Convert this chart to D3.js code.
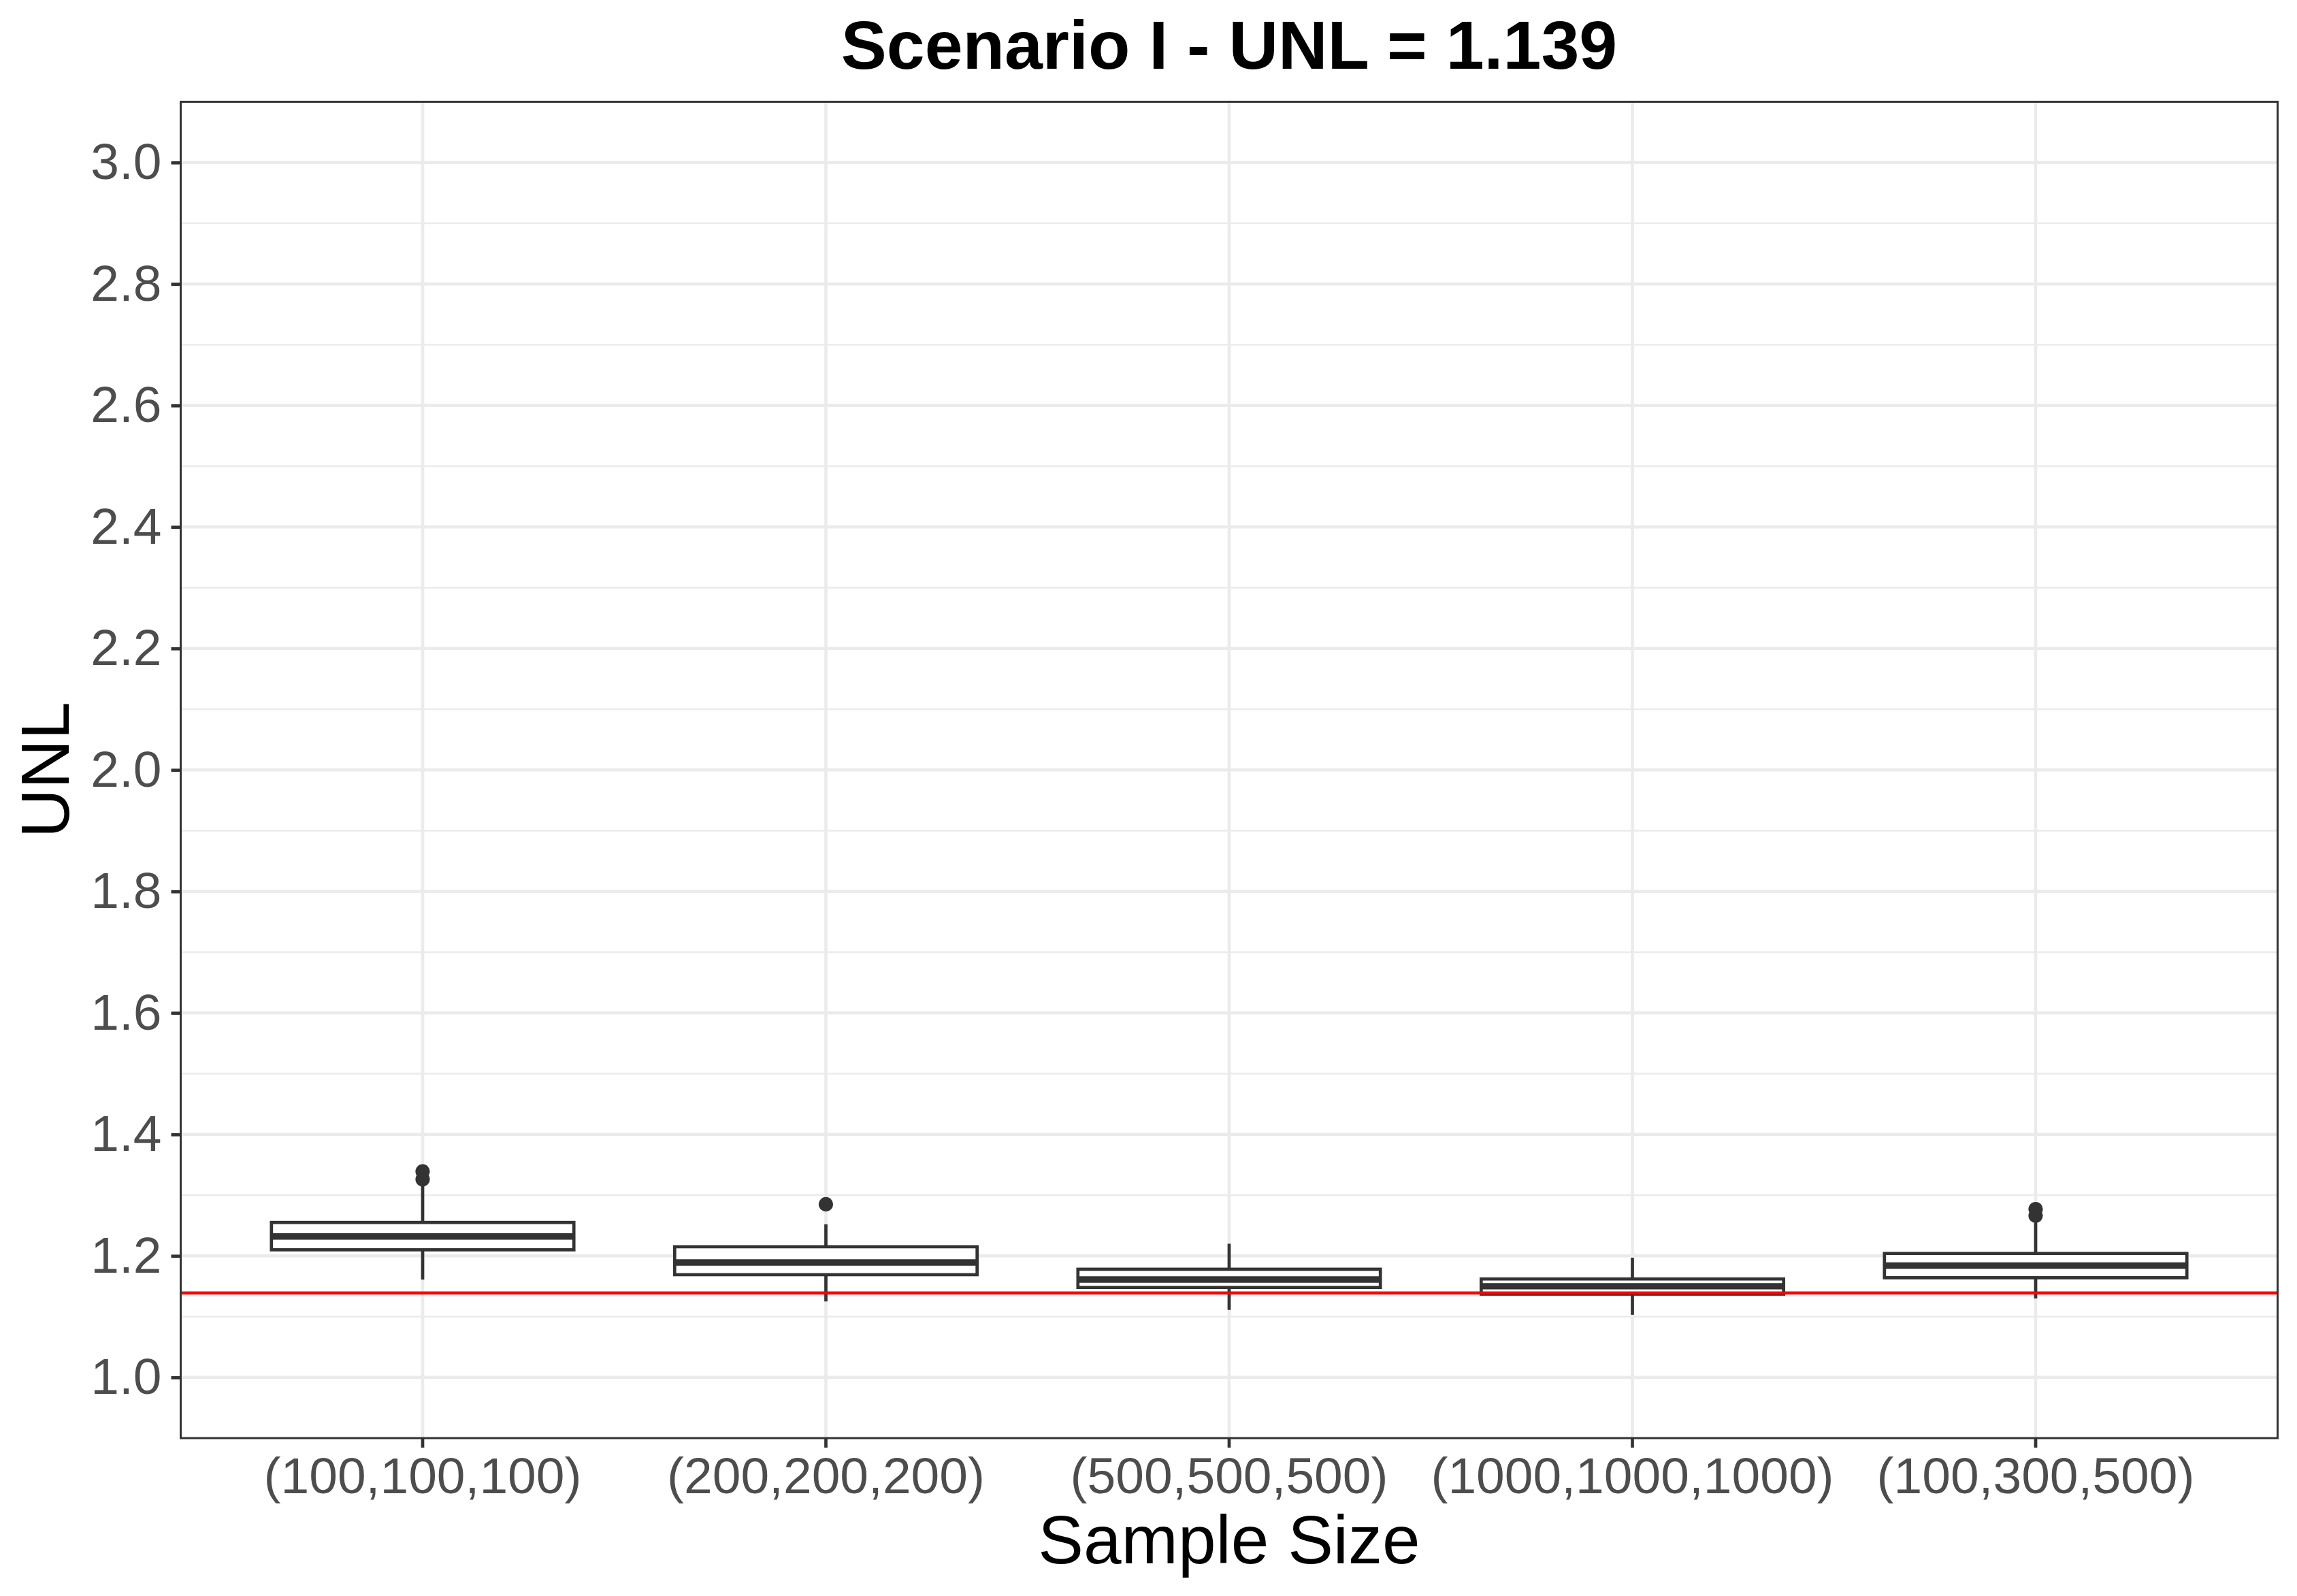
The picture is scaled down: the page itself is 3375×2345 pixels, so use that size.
<!DOCTYPE html>
<html>
<head>
<meta charset="utf-8">
<script src="https://cdn.jsdelivr.net/npm/d3@7"></script>
<style>
  body { margin: 0; background: #fff; }
  text { font-family: "Liberation Sans", Arial, sans-serif; }
</style>
</head>
<body>
<div id="canvas"></div>
<script>
"use strict"

/* Data: one box per sample size */
let categories = ["(100,100,100)", "(200,200,200)", "(500,500,500)", "(1000,1000,1000)", "(100,300,500)"];
let whiskerLow = [1.161, 1.125, 1.111, 1.103, 1.130];
let q1 = [1.210, 1.169, 1.148, 1.137, 1.164];
let median = [1.232, 1.189, 1.161, 1.150, 1.184];
let q3 = [1.255, 1.215, 1.178, 1.162, 1.204];
let whiskerHigh = [1.315, 1.252, 1.220, 1.197, 1.255];
let outliers = [[1.326, 1.339], [1.285], [], [], [1.266, 1.277]];
let trueValue = 1.139;
let yTicks = [1.0, 1.2, 1.4, 1.6, 1.8, 2.0, 2.2, 2.4, 2.6, 2.8, 3.0];
let yMinor = [1.1, 1.3, 1.5, 1.7, 1.9, 2.1, 2.3, 2.5, 2.7, 2.9];

/* Drawing configuration */
let svgWidth = 3375;
let svgHeight = 2345;
let panel = { left: 265.5, right: 3346.5, top: 149.5, bottom: 2113 };
let dark = "#333333";

let svg = d3.select("#canvas")
    .append("svg")
    .attr("width", svgWidth)
    .attr("height", svgHeight);

svg.append("rect")
    .attr("width", svgWidth)
    .attr("height", svgHeight)
    .attr("fill", "white");

/* Scales */
let xScale = d3.scaleBand()
    .domain(categories)
    .range([panel.left, panel.right])
    .paddingInner(0)
    .paddingOuter(0.1);   // gives ggplot's 0.6 unit expansion at band centres

let unit = xScale.bandwidth();
let xCenter = function (c) { return xScale(c) + unit / 2; };

let yScale = d3.scaleLinear()
    .domain([0.9, 3.1])
    .range([panel.bottom, panel.top]);

/* Grid lines */
svg.append("g").selectAll("line")
    .data(yMinor)
    .join("line")
    .attr("x1", panel.left).attr("x2", panel.right)
    .attr("y1", d => yScale(d)).attr("y2", d => yScale(d))
    .attr("stroke", "#EBEBEB")
    .attr("stroke-width", 2.3);

svg.append("g").selectAll("line")
    .data(yTicks)
    .join("line")
    .attr("x1", panel.left).attr("x2", panel.right)
    .attr("y1", d => yScale(d)).attr("y2", d => yScale(d))
    .attr("stroke", "#EBEBEB")
    .attr("stroke-width", 4.6);

svg.append("g").selectAll("line")
    .data(categories)
    .join("line")
    .attr("x1", d => xCenter(d)).attr("x2", d => xCenter(d))
    .attr("y1", panel.top).attr("y2", panel.bottom)
    .attr("stroke", "#EBEBEB")
    .attr("stroke-width", 4.6);

/* Boxplots */
let boxWidth = unit * 0.75;
let boxes = svg.append("g");

categories.forEach(function (c, i) {
    let cx = xCenter(c);

    // whiskers
    boxes.append("line")
        .attr("x1", cx).attr("x2", cx)
        .attr("y1", yScale(q3[i])).attr("y2", yScale(whiskerHigh[i]))
        .attr("stroke", dark).attr("stroke-width", 4.7);
    boxes.append("line")
        .attr("x1", cx).attr("x2", cx)
        .attr("y1", yScale(q1[i])).attr("y2", yScale(whiskerLow[i]))
        .attr("stroke", dark).attr("stroke-width", 4.7);

    // box
    boxes.append("rect")
        .attr("x", cx - boxWidth / 2)
        .attr("y", yScale(q3[i]))
        .attr("width", boxWidth)
        .attr("height", yScale(q1[i]) - yScale(q3[i]))
        .attr("fill", "white")
        .attr("stroke", dark)
        .attr("stroke-width", 4.7);

    // median
    boxes.append("line")
        .attr("x1", cx - boxWidth / 2).attr("x2", cx + boxWidth / 2)
        .attr("y1", yScale(median[i])).attr("y2", yScale(median[i]))
        .attr("stroke", dark).attr("stroke-width", 9.4);

    // outliers
    boxes.selectAll(null)
        .data(outliers[i])
        .join("circle")
        .attr("cx", cx)
        .attr("cy", d => yScale(d))
        .attr("r", 10.6)
        .attr("fill", dark);
});

/* Reference line for the true UNL */
svg.append("line")
    .attr("x1", panel.left).attr("x2", panel.right)
    .attr("y1", yScale(trueValue)).attr("y2", yScale(trueValue))
    .attr("stroke", "red")
    .attr("stroke-width", 4.4);

/* Panel border */
svg.append("rect")
    .attr("x", panel.left)
    .attr("y", panel.top)
    .attr("width", panel.right - panel.left)
    .attr("height", panel.bottom - panel.top)
    .attr("fill", "none")
    .attr("stroke", dark)
    .attr("stroke-width", 3);

/* Axes */
let yAxis = svg.append("g")
    .attr("transform", "translate(" + panel.left + ",0)")
    .call(d3.axisLeft(yScale)
        .tickValues(yTicks)
        .tickFormat(d3.format(".1f"))
        .tickSize(14)
        .tickPadding(14));

let xAxis = svg.append("g")
    .attr("transform", "translate(0," + panel.bottom + ")")
    .call(d3.axisBottom(xScale)
        .tickSize(14)
        .tickPadding(10));

[yAxis, xAxis].forEach(function (ax) {
    ax.select(".domain").remove();
    ax.selectAll(".tick line")
        .attr("stroke", dark)
        .attr("stroke-width", 4.7);
    ax.selectAll(".tick text")
        .attr("fill", "#4D4D4D")
        .style("font-family", "'Liberation Sans', Arial, sans-serif")
        .style("font-size", "75px");
});

xAxis.selectAll(".tick text")
    .attr("dy", null)
    .attr("y", 81);

/* Titles */
svg.append("text")
    .attr("x", (panel.left + panel.right) / 2)
    .attr("y", 101)
    .attr("text-anchor", "middle")
    .style("font-size", "100.5px")
    .style("font-weight", "bold")
    .text("Scenario I - UNL = 1.139");

svg.append("text")
    .attr("x", (panel.left + panel.right) / 2)
    .attr("y", 2297)
    .attr("text-anchor", "middle")
    .style("font-size", "100px")
    .text("Sample Size");

svg.append("text")
    .attr("transform", "translate(101," + (panel.top + panel.bottom) / 2 + ") rotate(-90)")
    .attr("text-anchor", "middle")
    .style("font-size", "100px")
    .text("UNL");
</script>
</body>
</html>
